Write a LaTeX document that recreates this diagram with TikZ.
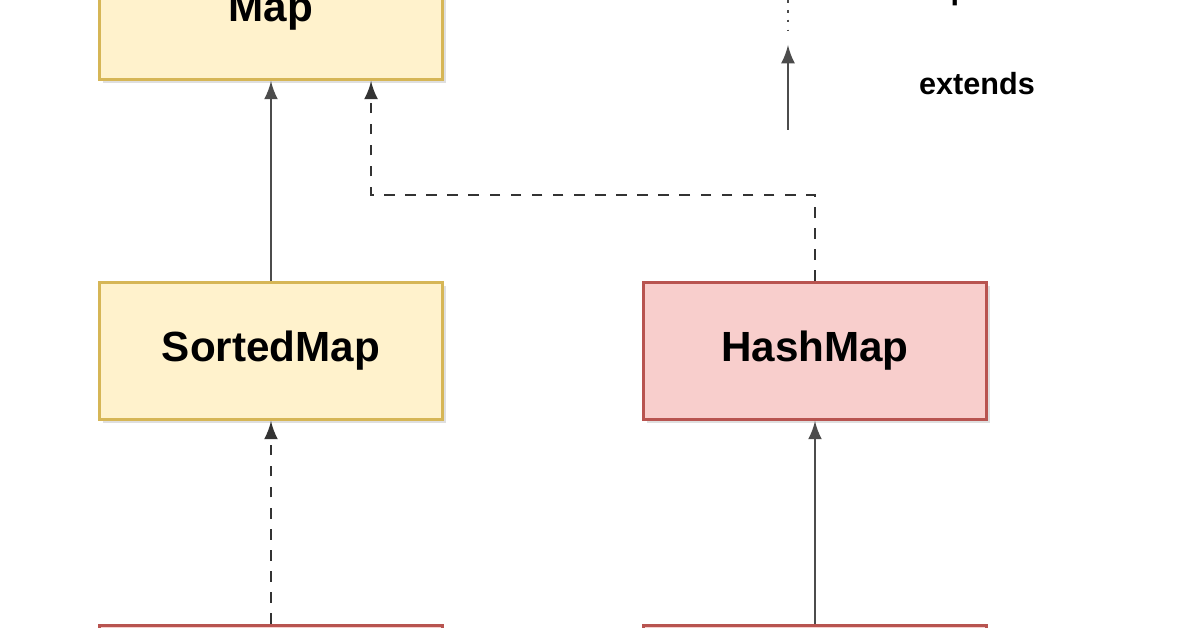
\documentclass[tikz,border=0pt]{standalone}
\usepackage{fontspec}
\setmainfont{Liberation Sans}
\usetikzlibrary{shadows}
\definecolor{ifill}{HTML}{FFF2CC}
\definecolor{idraw}{HTML}{D6B656}
\definecolor{cfill}{HTML}{F8CECC}
\definecolor{cdraw}{HTML}{B85450}
\begin{document}
\begin{tikzpicture}[x=0.01cm, y=-0.01cm,
  box/.style={draw, thick, minimum width=3.42cm, minimum height=1.37cm, font=\bfseries\fontsize{12}{14}\selectfont, drop shadow={opacity=0.25, shadow xshift=1pt, shadow yshift=-1pt}},
  iface/.style={box, fill=ifill, draw=idraw},
  cls/.style={box, fill=cfill, draw=cdraw},
  ext/.style={-latex, thick, black!70},
  impl/.style={-latex, thick, black!80, dashed}]
 \useasboundingbox (0,0) rectangle (1196,628);

 %interfaces
 \node[iface] (map) at (271,11) {Map};
 \node[iface] (sorted) at (271,351) {SortedMap};

 %classes
 \node[cls] (hash) at (815,351) {HashMap};
 \node[cls] (tree) at (271,694) {};
 \node[cls] (linked) at (815,694) {};

 %arrows
 \draw[ext] (sorted) -- (map);
 \draw[impl] (hash.north) -- ++(0,-86) -| ([xshift=1cm]map.south);
 \draw[impl] (tree) -- (sorted);
 \draw[ext] (linked) -- (hash);

 %legend
 \coordinate (l1) at (788,0);
 \coordinate (l2) at (788,30);
 \coordinate (l3) at (788,130);
 \coordinate (l4) at (788,45);
 \draw[thick, black!70, dotted] (l1) -- (l2);
 \draw[ext] (l3) -- (l4);
 \node[font=\bfseries\fontsize{8.7}{10}\selectfont] (impltext) at (1000,-8) {implements};
 \node[font=\bfseries\fontsize{8.7}{10}\selectfont] (exttext) at (977,84) {extends};
\end{tikzpicture}
\end{document}
